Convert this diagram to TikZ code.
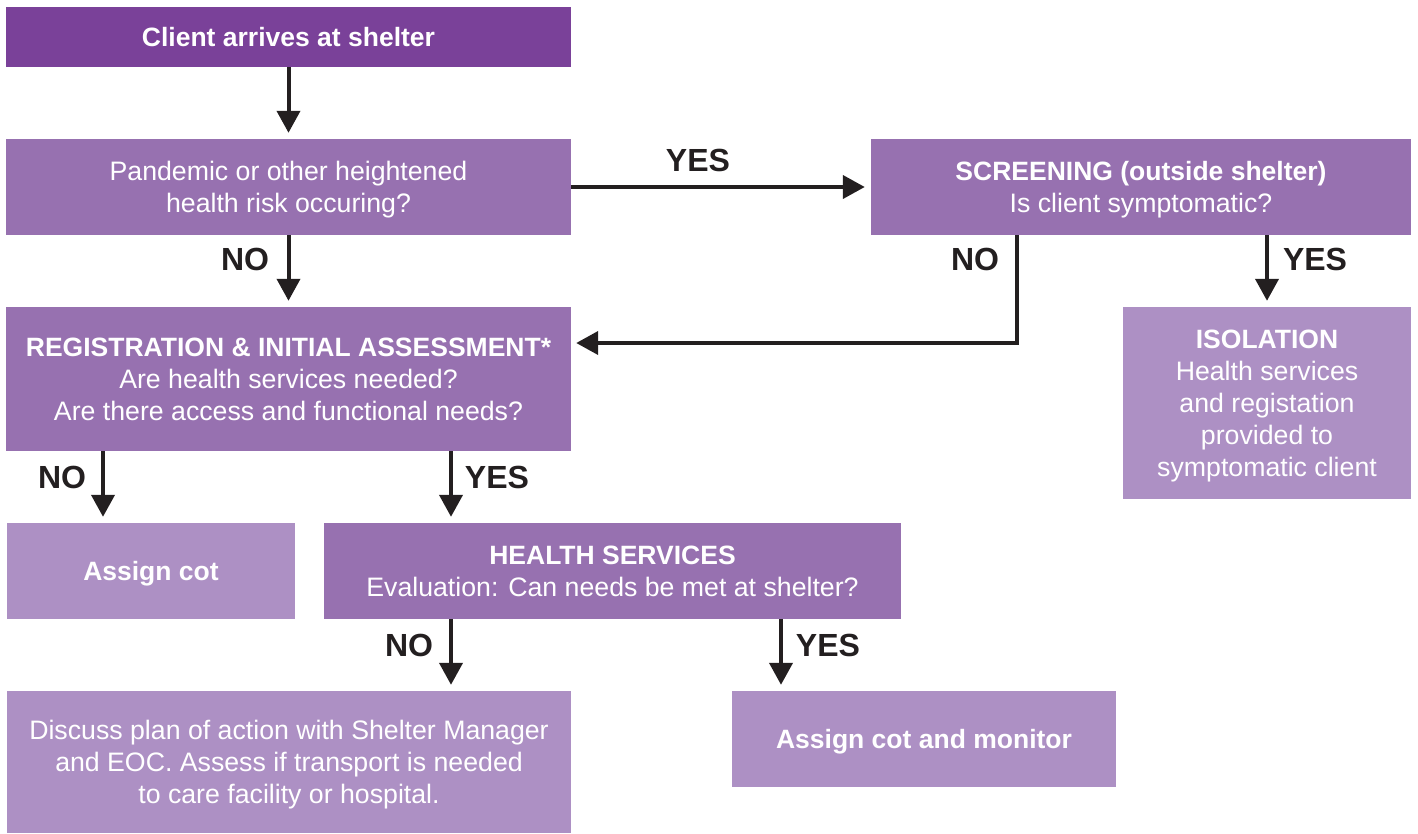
\documentclass[tikz,border=0pt]{standalone}
\usepackage{fontspec}
\setmainfont{Liberation Sans}
\usetikzlibrary{arrows.meta}
\definecolor{pdark}{HTML}{7A4199}
\definecolor{pmid}{HTML}{9771B0}
\definecolor{plight}{HTML}{AD90C4}
\definecolor{ink}{HTML}{231F20}
\newcommand{\bx}[1]{{\fontsize{26.5}{32}\selectfont\bfseries #1}}
\newcommand{\mystrut}{\rule[-7pt]{0pt}{33pt}}
\newcommand{\topstrut}{\rule{0pt}{25pt}}
\newcommand{\botstrut}{\rule[-7pt]{0pt}{7pt}}
\tikzset{
  box/.style={rectangle, inner sep=0pt, text=white, align=center,
    font=\fontsize{26.7}{32}\selectfont},
  arr/.style={draw=ink, line width=4pt, -{Triangle[length=22pt,width=23pt]}, shorten >=6pt},
  lbl/.style={text=ink, font=\fontsize{32}{34}\selectfont\bfseries, inner sep=0pt}
}
\begin{document}
\begin{tikzpicture}[x=1pt,y=-1pt]
\useasboundingbox (0,0) rectangle (1418,833);
\node[box, fill=pdark, minimum width=565pt, minimum height=60pt] (top) at (288.5,37) {\mystrut\bx{Client arrives at shelter}};
\node[box, fill=pmid, minimum width=565pt, minimum height=96pt] (pan) at (288.5,187) {\topstrut Pandemic or other heightened\\health risk occuring?\botstrut};
\node[box, fill=pmid, minimum width=540pt, minimum height=96pt] (scr) at (1141,187) {\topstrut\bx{SCREENING (outside shelter)}\\Is client symptomatic?\botstrut};
\node[box, fill=pmid, minimum width=565pt, minimum height=144pt] (reg) at (288.5,379) {\topstrut\bx{REGISTRATION \& INITIAL ASSESSMENT*}\\Are health services needed?\\Are there access and functional needs?\botstrut};
\node[box, fill=plight, minimum width=288pt, minimum height=192pt] (iso) at (1267,403) {\topstrut\bx{ISOLATION}\\Health services\\and registation\\provided to\\symptomatic client\botstrut};
\node[box, fill=plight, minimum width=288pt, minimum height=96pt] (cot) at (151,571) {\mystrut\bx{Assign cot}};
\node[box, fill=pmid, minimum width=577pt, minimum height=96pt] (hs) at (612.5,571) {\topstrut\bx{HEALTH SERVICES}\\Evaluation: Can needs be met at shelter?\botstrut};
\node[box, fill=plight, minimum width=564pt, minimum height=142pt] (dis) at (289,762) {\topstrut Discuss plan of action with Shelter Manager\\and EOC. Assess if transport is needed\\to care facility or hospital.\botstrut};
\node[box, fill=plight, minimum width=384pt, minimum height=96pt] (mon) at (924,739) {\mystrut\bx{Assign cot and monitor}};

\coordinate (xs) at (1017,0);
\coordinate (xi) at (1267,0);
\coordinate (xn) at (103,0);
\coordinate (xy) at (451,0);
\coordinate (xm) at (781,0);

\draw[arr] (top.south) -- (pan.north);
\draw[arr] (pan.south) -- (reg.north);
\draw[arr] (pan.east) -- (scr.west);
\draw[arr, shorten >=5pt] (scr.south -| xs) |- ([yshift=36pt]reg.east);
\draw[arr] (scr.south -| xi) -- (iso.north);
\draw[arr] (reg.south -| xn) -- (cot.north -| xn);
\draw[arr] (reg.south -| xy) -- (hs.north -| xy);
\draw[arr] (hs.south -| xy) -- (dis.north -| xy);
\draw[arr] (hs.south -| xm) -- (mon.north -| xm);

\node[lbl] (l1) at (245,259) {NO};
\node[lbl] (l2) at (698,160) {YES};
\node[lbl] (l3) at (975,259) {NO};
\node[lbl] (l4) at (1315,259) {YES};
\node[lbl] (l5) at (62,477) {NO};
\node[lbl] (l6) at (497,477) {YES};
\node[lbl] (l7) at (409,645) {NO};
\node[lbl] (l8) at (828,645) {YES};
\end{tikzpicture}
\end{document}
